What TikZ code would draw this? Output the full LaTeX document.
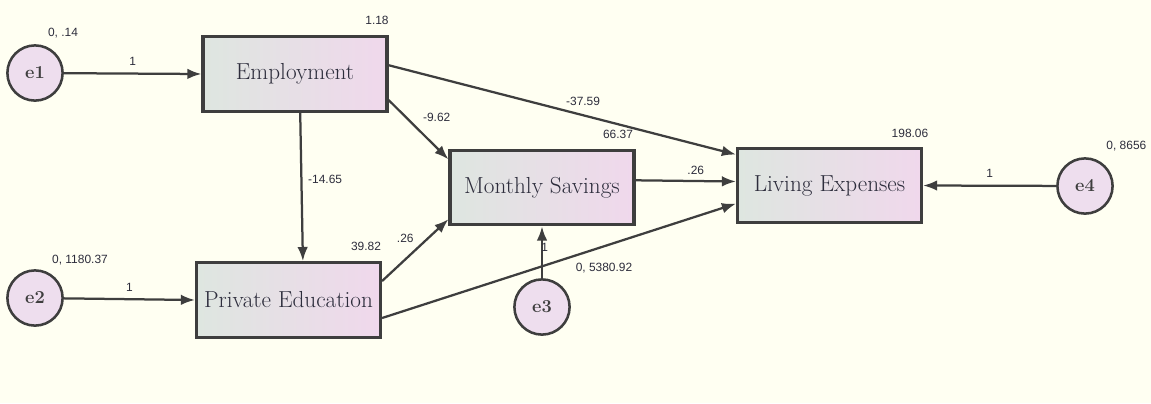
\documentclass[tikz,border=0pt]{standalone}
\usepackage{fontspec}
\newfontfamily\lblfont{Liberation Sans}
\usetikzlibrary{arrows.meta}
\definecolor{ivory}{RGB}{255,255,242}
\definecolor{boxleft}{RGB}{222,230,224}
\definecolor{boxright}{RGB}{240,216,236}
\definecolor{errfill}{RGB}{238,222,238}
\definecolor{edgegray}{RGB}{62,62,62}
\definecolor{textgray}{RGB}{45,45,60}

\begin{document}
\begin{tikzpicture}[x=0.025cm,y=-0.025cm,
  varbox/.style={draw=edgegray,line width=2.2pt,minimum width=4.6cm,minimum height=1.87cm,
                 left color=boxleft,right color=boxright,text=textgray,
                 font=\fontsize{16.5}{19}\selectfont},
  errnode/.style={circle,draw=edgegray,line width=1.8pt,fill=errfill,minimum size=1.38cm,
                  text=edgegray,font=\fontsize{13}{15}\selectfont\bfseries},
  link/.style={-{Latex[length=10pt,width=7.5pt]},line width=1.6pt,draw=edgegray},
  lbl/.style={font=\lblfont\fontsize{8.5}{10}\selectfont,text=textgray,inner sep=1pt}]

\fill [ivory] (0,0) rectangle (1151,403);
\useasboundingbox (0,0) rectangle (1151,403);

% observed variables
\node [varbox] (emp) at (295,74)    {Employment};
\node [varbox] (edu) at (288.5,300) {Private Education};
\node [varbox] (sav) at (542,187.5) {Monthly Savings};
\node [varbox] (liv) at (829.5,185.5) {Living Expenses};

% error terms
\node [errnode] (e1) at (35,73)   {e1};
\node [errnode] (e2) at (35,298)  {e2};
\node [errnode] (e3) at (542,307) {e3};
\node [errnode] (e4) at (1085,186) {e4};

% variances
\node [lbl] (v1)  at (63,33)    {0, .14};
\node [lbl] (v2)  at (80,260)   {0, 1180.37};
\node [lbl] (v3)  at (604,268)  {0, 5380.92};
\node [lbl,anchor=east] (v4) at (1148,146) {0, 8656};
\node [lbl] (vemp) at (377,20)  {1.18};
\node [lbl] (vedu) at (366,246) {39.82};
\node [lbl] (vsav) at (618,134) {66.37};
\node [lbl] (vliv) at (910,133) {198.06};

% paths
\draw [link] (e1) -- (emp.west) node [lbl,midway,above=4pt] {1};
\draw [link] (e2) -- (edu.west) node [lbl,midway,above=4pt] {1};
\draw [link] (e4) -- (liv.east) node [lbl,midway,above=4pt] {1};
\draw [link] (e3) -- (sav.south) node [lbl,pos=0.6,xshift=2pt] {1};

\draw [link] ([xshift=0.13cm]emp.south) -- ([xshift=0.36cm]edu.north)
      node [lbl,pos=0.45,right=3pt] {-14.65};
\draw [link] ([yshift=-0.65cm]emp.east) -- ([yshift=-0.27cm]sav.north west)
      node [lbl,pos=0.3,right=0.35cm] {-9.62};
\draw [link] ([yshift=0.22cm]emp.east) -- ([yshift=-0.2cm]liv.north west)
      node [lbl,pos=0.56,above=5pt] {-37.59};
\draw [link] ([yshift=-0.5cm]edu.north east) -- ([yshift=0.18cm]sav.south west)
      node [lbl,pos=0.35,above=0.35cm] {.26};
\draw [link] ([yshift=0.18cm]sav.east) -- ([yshift=0.1cm]liv.west)
      node [lbl,pos=0.6,above=3pt] {.26};
\draw [link] ([yshift=-0.45cm]edu.east) -- ([yshift=0.52cm]liv.south west);

\end{tikzpicture}
\end{document}
